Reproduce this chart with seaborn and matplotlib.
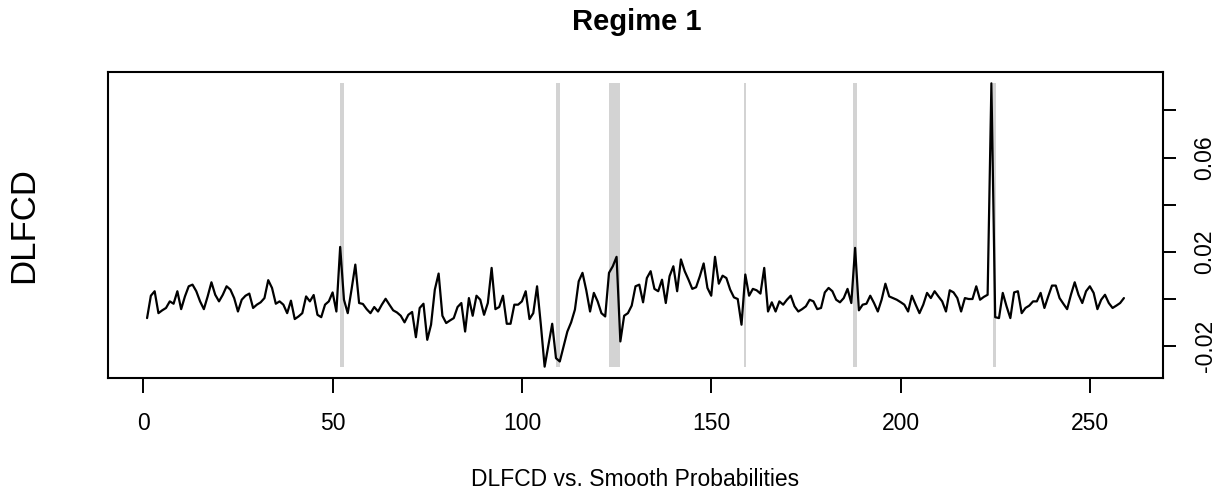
import numpy as np
import pandas as pd
import matplotlib
matplotlib.use("Agg")
import matplotlib.pyplot as plt
import seaborn as sns

# ---------------- data ----------------
dlfcd = [
    -0.0081, 0.0014, 0.0033, -0.0060, -0.0048, -0.0038, -0.0010, -0.0020, 0.0033, -0.0043,
    0.0011, 0.0054, 0.0061, 0.0033, -0.0010, -0.0043, 0.0011, 0.0071, 0.0018, -0.0010,
    0.0018, 0.0054, 0.0040, 0.0004, -0.0053, -0.0003, 0.0014, 0.0023, -0.0038, -0.0024,
    -0.0014, 0.0004, 0.0080, 0.0047, -0.0020, -0.0010, -0.0024, -0.0060, -0.0007, -0.0085,
    -0.0074, -0.0060, 0.0011, -0.0010, 0.0017, -0.0067, -0.0077, -0.0024, -0.0010, 0.0028,
    -0.0053, 0.0221, -0.0003, -0.0060, 0.0040, 0.0146, -0.0017, -0.0021, -0.0043, -0.0060,
    -0.0034, -0.0053, -0.0024, 0.0001, -0.0024, -0.0048, -0.0057, -0.0071, -0.0099, -0.0067,
    -0.0055, -0.0162, -0.0038, -0.0020, -0.0173, -0.0109, 0.0040, 0.0108, -0.0071, -0.0102,
    -0.0091, -0.0081, -0.0034, -0.0017, -0.0138, 0.0004, -0.0071, 0.0014, -0.0003, -0.0067,
    -0.0017, 0.0132, -0.0043, -0.0034, 0.0014, -0.0105, -0.0105, -0.0024, -0.0024, -0.0010,
    0.0033, -0.0085, -0.0060, 0.0054, -0.0109, -0.0287, -0.0195, -0.0105, -0.0251, -0.0265,
    -0.0202, -0.0138, -0.0099, -0.0045, 0.0075, 0.0111, 0.0037, -0.0053, 0.0026, -0.0010,
    -0.0060, -0.0074, 0.0111, 0.0139, 0.0179, -0.0180, -0.0071, -0.0060, -0.0028, 0.0054,
    0.0061, -0.0014, 0.0089, 0.0118, 0.0043, 0.0033, 0.0082, -0.0017, 0.0097, 0.0139,
    0.0033, 0.0168, 0.0118, 0.0082, 0.0043, 0.0050, 0.0097, 0.0151, 0.0047, 0.0014,
    0.0179, 0.0065, 0.0099, 0.0089, 0.0040, 0.0007, 0.0000, -0.0109, 0.0104, 0.0014,
    0.0043, 0.0037, 0.0023, 0.0132, -0.0053, -0.0014, -0.0053, -0.0010, -0.0024, -0.0003,
    0.0014, -0.0031, -0.0053, -0.0043, -0.0031, -0.0003, -0.0010, -0.0043, -0.0038, 0.0028,
    0.0047, 0.0033, -0.0003, -0.0014, 0.0004, 0.0043, -0.0017, 0.0217, -0.0048, -0.0024,
    -0.0020, 0.0014, -0.0017, -0.0053, -0.0003, 0.0065, 0.0011, 0.0004, -0.0003, -0.0013,
    -0.0024, -0.0053, 0.0014, -0.0024, -0.0060, -0.0024, 0.0026, 0.0004, 0.0033, 0.0011,
    -0.0010, -0.0053, 0.0037, 0.0028, 0.0004, -0.0053, 0.0004, 0.0000, 0.0000, 0.0054,
    -0.0003, 0.0009, 0.0018, 0.0915, -0.0077, -0.0081, 0.0026, -0.0031, -0.0081, 0.0028,
    0.0033, -0.0060, -0.0038, -0.0028, -0.0010, -0.0010, 0.0026, -0.0038, 0.0011, 0.0057,
    0.0057, 0.0004, -0.0020, -0.0043, 0.0018, 0.0071, 0.0018, -0.0017, 0.0033, 0.0054,
    0.0026, -0.0043, -0.0003, 0.0018, -0.0017, -0.0038, -0.0028, -0.0017, 0.0004,
]
time_index = list(range(1, len(dlfcd) + 1))

# periods where regime 1 smooth probability is high (shaded)
regime_start = [51.9, 109.1, 122.9, 158.6, 187.4, 224.3]
regime_end = [52.9, 110.1, 126.0, 159.1, 188.4, 225.3]

x_ticks = [0, 50, 100, 150, 200, 250]
y_ticks = [-0.02, 0.00, 0.02, 0.04, 0.06, 0.08]
y_tick_labels = ["-0.02", "", "0.02", "", "0.06", ""]

df = pd.DataFrame({"t": time_index, "DLFCD": dlfcd})

# ---------------- style ----------------
sns.set_style("white")
plt.rcParams["font.family"] = ["Liberation Sans", "DejaVu Sans"]
plt.rcParams["text.color"] = "black"
plt.rcParams["axes.labelcolor"] = "black"
plt.rcParams["xtick.color"] = "black"
plt.rcParams["ytick.color"] = "black"

W, H = 1225, 495
fig = plt.figure(figsize=(W / 100, H / 100), dpi=100)
ax = fig.add_axes([108 / W, 1 - 378 / H, (1163 - 108) / W, (378 - 72) / H])

ymin, ymax = min(dlfcd), max(dlfcd)
yr = ymax - ymin
n = len(dlfcd)
xr = n - 1
ax.set_xlim(1 - 0.04 * xr, n + 0.04 * xr)
ax.set_ylim(ymin - 0.04 * yr, ymax + 0.04 * yr)

for s, e in zip(regime_start, regime_end):
    ax.fill_betweenx([ymin, ymax], s, e, color="#D3D3D3", linewidth=0, zorder=1)

sns.lineplot(data=df, x="t", y="DLFCD", ax=ax, color="black", linewidth=1.6, zorder=3)

ax.set_xlabel("")
ax.set_ylabel("")

ax.yaxis.tick_right()
ax.set_xticks(x_ticks)
ax.set_xticklabels([str(v) for v in x_ticks])
ax.set_yticks(y_ticks)
ax.set_yticklabels(y_tick_labels)

ax.tick_params(axis="x", direction="out", length=10.5, width=1.4, pad=14,
               labelsize=16.5, colors="black", labelcolor="black", bottom=True)
ax.tick_params(axis="y", direction="out", length=9, width=1.4, pad=13,
               labelsize=16.5, colors="black", labelcolor="black", right=True, left=False,
               labelrotation=90)
for lab in ax.get_yticklabels():
    lab.set_va("center")

for sp in ax.spines.values():
    sp.set_visible(True)
    sp.set_color("black")
    sp.set_linewidth(1.5)

fig.text(637 / W, 1 - 22 / H, "Regime 1", ha="center", va="center",
         fontsize=21, fontweight="bold", color="black")
fig.text(24 / W, 1 - 225 / H, "DLFCD", ha="center", va="center",
         rotation=90, fontsize=25, color="black")
fig.text(635 / W, 1 - 480 / H, "DLFCD vs. Smooth Probabilities", ha="center",
         va="center", fontsize=16.5, color="black")

fig.savefig("out.png", dpi=100)
